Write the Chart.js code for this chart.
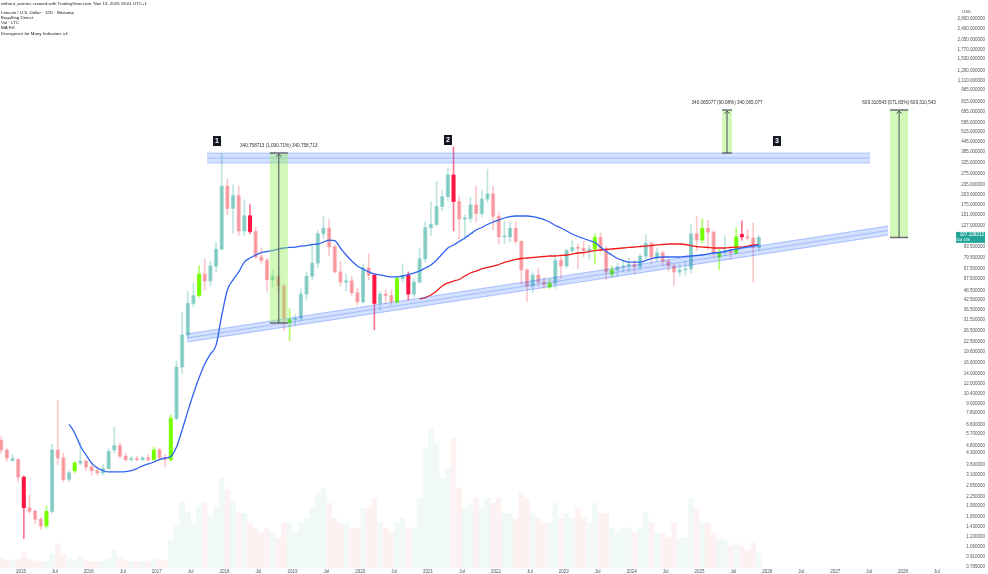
<!DOCTYPE html>
<html>
<head>
<meta charset="utf-8">
<script src="https://cdn.jsdelivr.net/npm/chart.js@4.4.1/dist/chart.umd.min.js"></script>
<style>
html,body{margin:0;padding:0;background:#fff;overflow:hidden}
canvas{display:block}
</style>
</head>
<body>
<canvas id="chart" width="988" height="574"></canvas>
<script>
// monthly candles, index 0 = Sep 2014 ... 134 = Nov 2025
const opens = [5.2,4.5,3.85,3.9,3.0,1.9,1.8,1.6,1.45,1.8,4.5,4.0,2.9,3.3,3.7,3.8,3.5,3.3,3.2,3.4,
  4.5,4.8,4.1,3.9,3.95,3.9,4.0,3.9,4.5,4.0,3.9,7.2,15.5,25,40,45,62,56,70,90,
  230,165,200,118,148,117,80,76,57,60,52,30,31.5,32,46,60,73,113,123,93,
  64,55,56,47,41,68,61,40,46,45,41,58,61,46,55,78,124,130,170,197,
  272,183,141,142,174,153,190,205,147,108,108,123,101,66,52,61,55,51,54,76,
  70,88,92,91,88,90,107,91,62,66,69,70,72,69,81,98,80,85,75,70,
  64,66,67,113,103,123,116,80,86,88,85,112,108,106,92];
const highs = [5.5,4.6,4.2,3.95,3.05,2.3,1.85,1.65,1.95,4.9,9.4,4.3,3.3,3.8,5.1,3.9,3.7,3.5,3.6,4.6,
  6.3,5.0,4.3,4.1,4.1,4.1,4.2,4.7,4.6,4.2,7.6,17,35,48,54,70,78,75,100,375,
  255,235,230,185,175,125,92,78,66,62,53,37,34,50,64,95,118,146,140,96,
  75,62,60,50,72,84,62,48,49,49,60,72,64,58,91,135,182,247,215,300,
  413,200,150,195,230,215,296,230,155,137,135,135,102,67,64,67,59,58,83,80,
  90,102,97,101,95,113,115,94,70,73,76,79,76,84,112,100,91,87,79,72,
  72,75,130,147,141,138,118,90,110,92,124,137,120,133,110];
const lows = [4.3,3.8,3.8,2.8,1.2,1.75,1.5,1.38,1.4,1.75,3.6,2.8,2.8,3.2,3.6,3.3,3.1,3.1,3.1,3.4,
  4.3,4.0,3.8,3.8,3.8,3.8,3.8,3.85,3.9,3.5,3.8,7.0,14,24,38,44,49,52,64,88,
  150,115,110,110,113,78,72,48,51,47,27,23,29,31,42,57,68,105,82,63,
  52,48,45,39,40,57,27,36,40,39,40,55,42,44,54,74,110,128,160,185,
  118,105,104,135,135,145,180,120,97,98,100,98,53,41,47,52,50,50,50,58,
  68,85,67,80,77,72,86,57,59,60,64,64,62,66,78,72,75,70,65,52,
  60,61,63,88,98,89,80,66,82,77,84,103,103,55,88];
const closes = [4.5,4.0,3.95,3.0,1.9,1.8,1.6,1.45,1.8,4.5,4.0,2.9,3.2,3.7,3.8,3.5,3.3,3.2,3.4,4.4,
  4.8,4.1,3.9,3.95,3.9,4.0,3.9,4.5,4.0,3.9,7.2,15.5,25,40,45,62,56,70,90,230,
  165,200,118,148,117,80,76,57,60,52,32,31.5,32,46,60,73,113,123,93,64,
  55,56,47,41,68,61,40,46,45,41,58,61,46,55,78,124,130,170,197,272,
  183,141,142,174,153,190,205,147,108,108,123,101,66,52,61,55,53,54,76,70,
  88,92,91,88,90,107,91,64,66,69,70,72,69,81,98,80,85,75,70,64,
  66,67,113,103,123,116,84,86,88,85,108,108,106,92,107.13];
const volumes = [10,8,7,9,16,9,7,6,6,14,24,13,9,7,12,8,6,6,7,10,
  18,10,7,6,6,6,7,9,8,7,28,42,66,56,45,62,66,52,62,90,
  78,68,55,55,45,40,35,40,35,30,45,45,35,45,50,60,75,80,65,50,
  45,45,40,40,60,60,70,45,40,35,45,50,40,40,70,120,140,125,90,100,
  130,80,60,65,70,60,70,65,70,55,55,50,75,70,55,50,45,45,65,50,
  55,50,60,50,45,65,55,55,40,35,40,40,35,40,55,45,35,35,30,45,
  30,30,70,60,45,45,35,30,28,22,25,22,18,25,15];
// engulfing detections (highlighted candles)
const bullEngulf = [8,13,27,30,35,51,70,97,105,108,124,127,130];
const bearEngulf = [4,44,66,72,80,131];

// moving averages
const blueStart = 12;
const blueMA = [6.6,5.8,4.77,4.18,3.70,3.44,3.31,3.24,3.24,3.24,3.26,3.31,3.41,3.55,3.65,3.76,3.90,3.99,4.08,4.70,
  6.06,8.0,10.4,13.2,16.2,18.8,21.5,33.3,48.9,56.8,64.0,74.2,78.8,82.4,85.5,86.8,88.1,90.1,91.5,92.2,
  92.8,94.2,94.9,96.4,97.1,100,103,102,91.5,82.4,75.4,69.9,66.9,64.0,62.1,61.2,60.2,59.4,59.4,60.2,
  61.6,63.0,64.9,67.9,71.0,76.5,83.6,91.5,95.7,100.8,106.2,112.7,119.6,124.2,129.9,134.8,138.9,143.1,146.3,147.4,
  147.4,147.4,146.3,143.1,139.9,134.8,127.9,123.3,117.9,112.7,108.6,105.4,102.3,99.3,92.8,86.8,82.4,78.2,75.9,74.2,
  74.2,74.2,75.9,78.2,79.4,80.0,80.0,80.0,80.0,80.6,81.2,81.8,82.4,83.6,84.9,85.5,86.8,88.8,90.1,91.5,
  92.8,94.2,95.7];
const redStart = 74;
const redMA = [42.7,43.7,45.4,48.2,51.9,54.3,55.9,57.2,60.2,63.0,64.9,66.9,68.4,69.9,71.5,73.7,75.4,77.1,78.2,78.8,
  79.4,80.0,80.6,81.2,81.2,81.8,82.4,83.6,84.9,85.5,86.8,88.1,88.8,89.4,90.1,90.8,91.5,92.2,92.8,93.5,
  94.2,94.9,95.7,96.4,97.1,97.1,97.1,96.4,94.9,93.5,92.8,92.2,91.5,91.5,91.5,92.2,92.8,92.8,94.2,95.7,95.7];

// drawn channel and resistance zone (month, price)
const channelTop = [{x:33.36,y:25.4},{x:157.34,y:127}];
const channelMid = [{x:33.36,y:23.9},{x:157.34,y:118.7}];
const channelBot = [{x:33.36,y:22.5},{x:157.34,y:111}];
const zoneTop = [{x:36.9,y:377},{x:154.2,y:377}];
const zoneMid = [{x:36.9,y:350},{x:154.2,y:350}];
const zoneBot = [{x:36.9,y:325},{x:154.2,y:325}];

const xTickLabels = ['2015','Jul','2016','Jul','2017','Jul','2018','Jul','2019','Jul','2020','Jul','2021','Jul',
  '2022','Jul','2023','Jul','2024','Jul','2025','Jul','2026','Jul','2027','Jul','2028','Jul'];
const yTicks = [2800,2400,2050,1770,1530,1290,1110,965,815,695,595,515,445,385,325,275,235,203,175,151,127,108,
  93.5,79.5,67.5,57.5,48.5,42.5,36.5,31.5,26.5,22.5,19.6,16.6,14,12,10.4,9,7.8,6.6,5.7,4.8,4.3,3.6,3.1,
  2.65,2.25,1.95,1.65,1.43,1.23,1.06,0.91,0.785];

const ranges = [
  {x0:48.0, x1:51.2, lo:29.9, hi:377, text:'340.758713 (1,090.71%) 340,758,713'},
  {x0:128.0, x1:129.75, lo:377, hi:716, text:'340.065077 (90.08%) 340,065,077'},
  {x0:157.7, x1:160.9, lo:107, hi:716, text:'609.310543 (571.83%) 609,310,543'}
];
const markers = [{x:38.67, p:451, t:'1'}, {x:79.52, p:458, t:'2'}, {x:137.71, p:451, t:'3'}];
const header = ['without_worries created with TradingView.com, Nov 15, 2025 18:01 UTC+1',
  'Litecoin / U.S. Dollar · 12D · Bitstamp', 'Engulfing Detect', 'Vol · LTC', 'MA Fill',
  'Divergence for Many Indicators v4'];

const FONT = "'Liberation Sans', Arial, sans-serif";
Chart.defaults.font.family = FONT;

const centre = opens.map((_, i) => i + 0.5);
const up = i => closes[i] >= opens[i];
function bodyColor(ctx) {
  const i = ctx.dataIndex;
  if (bullEngulf.includes(i)) return '#76ff03';
  if (bearEngulf.includes(i)) return '#ff1744';
  return up(i) ? 'rgba(38,166,154,0.45)' : 'rgba(242,54,69,0.38)';
}
function wickColor(ctx) {
  const i = ctx.dataIndex;
  if (bullEngulf.includes(i)) return 'rgba(118,255,3,0.6)';
  if (bearEngulf.includes(i)) return 'rgba(255,23,68,0.6)';
  return up(i) ? 'rgba(38,166,154,0.3)' : 'rgba(242,54,69,0.28)';
}
const maPoints = (arr, start) => arr.map((v, k) => ({x: start + k + 0.5, y: v}));
const bandLine = (data, color, fill, bg) => ({
  type:'line', data, borderColor:color, borderWidth:1, pointRadius:0, fill:fill, backgroundColor:bg, order:0
});

const overlay = {
  id: 'overlay',
  afterDatasetsDraw(chart) {
    const {ctx, scales:{x, y}} = chart;
    ctx.save();
    ranges.forEach(r => {
      const l = x.getPixelForValue(r.x0), rr = x.getPixelForValue(r.x1);
      const t = y.getPixelForValue(r.hi), b = y.getPixelForValue(r.lo);
      ctx.fillStyle = 'rgba(150,240,90,0.42)';
      ctx.fillRect(l, t, rr - l, b - t);
      ctx.strokeStyle = '#6b6e78';
      ctx.lineWidth = 1.4;
      ctx.beginPath();
      ctx.moveTo(l, t); ctx.lineTo(rr, t);
      ctx.moveTo(l, b); ctx.lineTo(rr, b);
      ctx.stroke();
      const cx = (l + rr) / 2;
      ctx.lineWidth = 1;
      ctx.strokeStyle = '#4a4d56';
      ctx.beginPath();
      ctx.moveTo(cx, b); ctx.lineTo(cx, t + 1);
      ctx.moveTo(cx - 2.5, t + 3.5); ctx.lineTo(cx, t + 1); ctx.lineTo(cx + 2.5, t + 3.5);
      ctx.stroke();
      ctx.fillStyle = '#2a2e39';
      ctx.font = '4.6px ' + FONT;
      ctx.textAlign = 'center';
      ctx.textBaseline = 'middle';
      ctx.fillText(r.text, cx, t - 7);
    });
    markers.forEach(m => {
      const px = x.getPixelForValue(m.x), py = y.getPixelForValue(m.p);
      ctx.fillStyle = '#131722';
      ctx.fillRect(px - 4, py - 5, 8, 10);
      ctx.fillStyle = '#fff';
      ctx.font = 'bold 7px ' + FONT;
      ctx.textAlign = 'center';
      ctx.textBaseline = 'middle';
      ctx.fillText(m.t, px, py + 0.5);
    });
    ctx.restore();
  },
  afterDraw(chart) {
    const {ctx, scales:{y}} = chart;
    ctx.save();
    ctx.fillStyle = '#131722';
    ctx.font = '4.4px ' + FONT;
    ctx.textAlign = 'left';
    ctx.textBaseline = 'middle';
    const rows = [4, 12.3, 17.5, 22.8, 28, 33.3];
    header.forEach((h, i) => ctx.fillText(h, 1, rows[i]));
    ctx.fillStyle = '#50535e';
    ctx.fillText('USD', 962, 12);
    const last = closes[closes.length - 1];
    const py = y.getPixelForValue(last);
    ctx.fillStyle = '#26a69a';
    ctx.fillRect(956, py - 5.5, 29, 11);
    ctx.fillStyle = '#fff';
    ctx.textAlign = 'right';
    ctx.font = '4.6px ' + FONT;
    ctx.fillText('107.128312', 984, py - 2.3);
    ctx.font = '4px ' + FONT;
    ctx.fillText('11d 13h', 970, py + 2.6);
    ctx.restore();
  }
};

new Chart(document.getElementById('chart'), {
  type: 'bar',
  data: {
    datasets: [
      bandLine(channelTop, 'rgba(41,98,255,0.35)', false),
      bandLine(channelBot, 'rgba(41,98,255,0.35)', '-1', 'rgba(41,98,255,0.2)'),
      bandLine(channelMid, 'rgba(41,98,255,0.3)', false),
      bandLine(zoneTop, 'rgba(41,98,255,0.3)', false),
      bandLine(zoneBot, 'rgba(41,98,255,0.3)', '-1', 'rgba(41,98,255,0.2)'),
      bandLine(zoneMid, 'rgba(41,98,255,0.3)', false),
      {type:'line', data: maPoints(blueMA, blueStart), borderColor:'#2f63f0', borderWidth:1.3,
        pointRadius:0, cubicInterpolationMode:'monotone', order:1},
      {type:'line', data: maPoints(redMA, redStart), borderColor:'#f01a1a', borderWidth:1.3,
        pointRadius:0, cubicInterpolationMode:'monotone', order:1},
      {data: centre.map((c, i) => ({x:c, y:[opens[i], closes[i]]})), backgroundColor: bodyColor,
        barThickness:3.4, minBarLength:1, grouped:false, order:2},
      {data: centre.map((c, i) => ({x:c, y:[lows[i], highs[i]]})), backgroundColor: wickColor,
        barThickness:1, grouped:false, order:3},
      {data: centre.map((c, i) => ({x:c, y:volumes[i]})), yAxisID:'vol', grouped:false, barThickness:5,
        backgroundColor: ctx => up(ctx.dataIndex) ? 'rgba(38,166,154,0.07)' : 'rgba(242,54,69,0.07)', order:10}
    ]
  },
  options: {
    responsive:false, animation:false, devicePixelRatio:1,
    layout:{padding:{left:0, top:0, right:3, bottom:0}},
    plugins:{legend:{display:false}, tooltip:{enabled:false}},
    scales:{
      x:{type:'linear', min:0.286, max:166.54, offset:false,
        grid:{display:false, drawTicks:false}, border:{display:false},
        ticks:{font:{size:4.5}, color:'#50535e', padding:1, maxRotation:0, autoSkip:false,
          callback:(v) => xTickLabels[Math.round((v - 4) / 6)] || ''},
        afterBuildTicks: s => { s.ticks = xTickLabels.map((_, i) => ({value: 4 + 6 * i})); },
        afterFit: s => { s.height = 6; s.paddingLeft = 0; s.paddingRight = 0; }
      },
      y:{type:'logarithmic', position:'right', min:0.7736, max:3696,
        grid:{display:false, drawTicks:false}, border:{display:false},
        ticks:{font:{size:4.5}, color:'#50535e', padding:0, crossAlign:'far', autoSkip:false,
          callback:(v) => Number(v).toLocaleString('en-US', {minimumFractionDigits:6, maximumFractionDigits:6})},
        afterBuildTicks: s => { s.ticks = yTicks.map(v => ({value:v})); },
        afterFit: s => { s.width = 45; s.paddingTop = 0; s.paddingBottom = 0; }
      },
      vol:{type:'linear', display:false, min:0, max:570}
    }
  },
  plugins:[overlay]
});
</script>
</body>
</html>
